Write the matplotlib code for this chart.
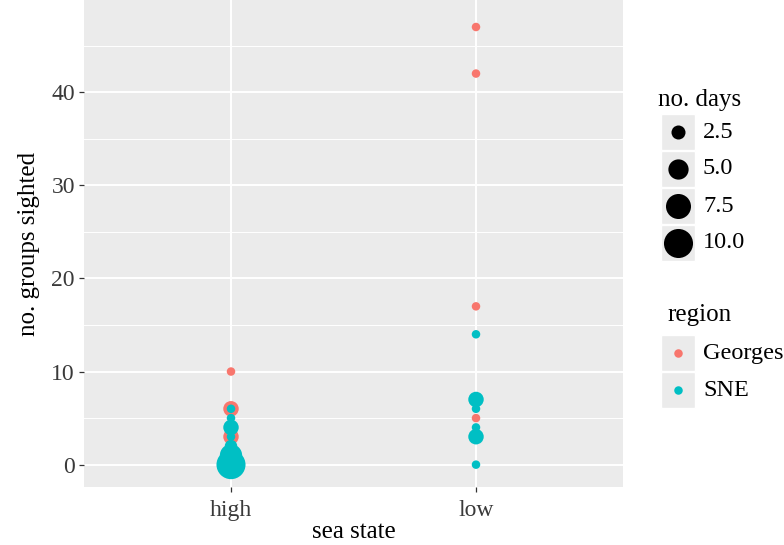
import matplotlib
matplotlib.use("Agg")
import matplotlib.pyplot as plt
import numpy as np
from matplotlib.patches import Rectangle

# data (sea state, groups sighted, days, region)
SEA_STATE = ["high", "high", "high", "low", "low", "low", "low",
             "high", "high", "high", "high", "high", "high", "high",
             "low", "low", "low", "low", "low", "low"]
GROUPS = [10, 6, 3, 47, 42, 17, 5,
          6, 5, 4, 3, 2, 1, 0,
          14, 7, 6, 4, 3, 0]
DAYS = [1, 3, 3, 1, 1, 1, 1,
        1, 1, 3, 1, 2, 6, 10,
        1, 3, 1, 1, 3, 1]
REGION = ["Georges"] * 7 + ["SNE"] * 13

CATEGORIES = ["high", "low"]
REGIONS = ["Georges", "SNE"]
REGION_COLORS = {"Georges": "#F8766D", "SNE": "#00BFC4"}
SIZE_BREAKS = [2.5, 5.0, 7.5, 10.0]
Y_TICKS = [0, 10, 20, 30, 40]

W, H, DPI = 784, 545, 100
BG = "#EBEBEB"


def diam_px(days):
    # ggplot-like area scale: diameter linear in sqrt(days)
    return -1.0 + 9.5 * np.sqrt(np.asarray(days, dtype=float))


def marker_area(days):
    d_pt = diam_px(days) * 72.0 / DPI
    return d_pt ** 2


def main():
    plt.rcParams["font.family"] = ["Liberation Serif", "DejaVu Serif"]

    fig = plt.figure(figsize=(W / DPI, H / DPI), dpi=DPI)
    left, right, top, bottom = 84, 623, 0, 487
    ax = fig.add_axes([left / W, 1 - bottom / H, (right - left) / W, (bottom - top) / H])
    ax.set_facecolor(BG)

    xpos = np.array([CATEGORIES.index(s) + 1 for s in SEA_STATE], dtype=float)
    ys = np.array(GROUPS, dtype=float)
    cols = [REGION_COLORS[r] for r in REGION]
    ax.scatter(xpos, ys, s=marker_area(DAYS), c=cols, linewidths=0, zorder=3)

    ax.set_xlim(0.4, 2.6)
    ax.set_ylim(-2.4, 49.9)
    ax.set_xticks([1, 2])
    ax.set_xticklabels(CATEGORIES)
    ax.set_yticks(Y_TICKS)
    ax.set_yticks([5, 15, 25, 35, 45], minor=True)
    ax.grid(True, which="major", color="white", linewidth=1.4, zorder=0)
    ax.grid(True, which="minor", axis="y", color="white", linewidth=0.7, zorder=0)
    ax.set_axisbelow(True)
    for sp in ax.spines.values():
        sp.set_visible(False)
    ax.tick_params(axis="both", which="major", length=3.5, width=0.9, color="#333333",
                   labelsize=17, labelcolor="#3A3A3A", pad=3)
    ax.tick_params(axis="x", which="major", pad=6)
    ax.tick_params(axis="both", which="minor", length=0)

    ax.set_xlabel("sea state", fontsize=18, labelpad=0)
    ax.set_ylabel("no. groups sighted", fontsize=18, labelpad=8)

    # legends drawn in pixel coordinates
    lg = fig.add_axes([0, 0, 1, 1])
    lg.set_xlim(0, W)
    lg.set_ylim(H, 0)
    lg.axis("off")

    kx0, kw, kh = 661, 34, 36
    lg.text(658, 100, "no. days", fontsize=18, va="center", ha="left")
    for i, b in enumerate(SIZE_BREAKS):
        cy = 132 + i * 37
        lg.add_patch(Rectangle((kx0, cy - kh / 2), kw, kh, facecolor=BG,
                               edgecolor="white", linewidth=1))
        lg.scatter([kx0 + kw / 2], [cy], s=marker_area([b]), c="black", linewidths=0)
        lg.text(703, cy, f"{b:.1f}", fontsize=17.5, va="center", ha="left")

    lg.text(667, 315, "region", fontsize=18, va="center", ha="left")
    for i, r in enumerate(REGIONS):
        cy = 353 + i * 37
        lg.add_patch(Rectangle((kx0, cy - kh / 2), kw, kh, facecolor=BG,
                               edgecolor="white", linewidth=1))
        lg.scatter([kx0 + kw / 2], [cy], s=marker_area([1.0]), c=REGION_COLORS[r], linewidths=0)
        lg.text(703, cy, r, fontsize=17.5, va="center", ha="left")

    fig.savefig("out.png", dpi=DPI)


if __name__ == "__main__":
    main()
